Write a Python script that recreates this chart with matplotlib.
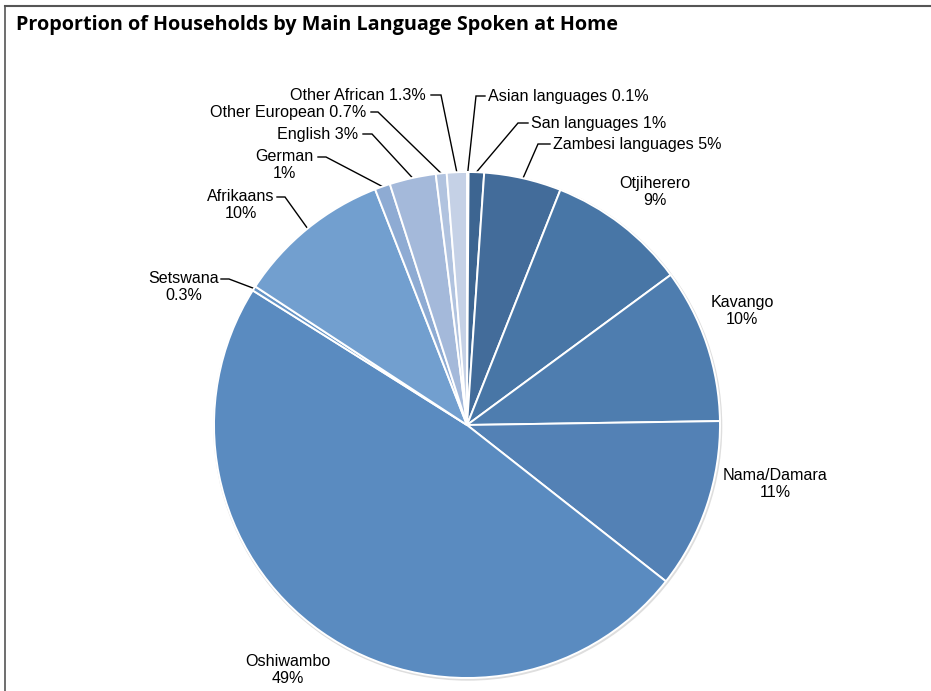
"""Pie chart of household shares by main language spoken at home."""
import numpy as np
import matplotlib
matplotlib.use("Agg")
import matplotlib.pyplot as plt
from matplotlib.lines import Line2D
from matplotlib.patches import Circle

W, H = 931, 691

# slices listed clockwise from 12 o'clock
languages = ["Asian languages", "San languages", "Zambesi languages", "Otjiherero",
             "Kavango", "Nama/Damara", "Oshiwambo", "Setswana", "Afrikaans",
             "German", "English", "Other European", "Other African"]
shares = [0.1, 1, 5, 9, 10, 11, 49, 0.3, 10, 1, 3, 0.7, 1.3]
share_text = ["0.1%", "1%", "5%", "9%", "10%", "11%", "49%", "0.3%", "10%",
              "1%", "3%", "0.7%", "1.3%"]
colors = ["#3a5f8c", "#3d6591", "#436c9a", "#4876a6", "#4e7daf", "#5381b5",
          "#5a8bc0", "#6594c6", "#729fcf", "#8eabd3", "#a4b9da", "#b1c3df",
          "#c5d1e6"]

CENTER = (467, 425)
RADIUS = 253

# label placement in pixels from the top-left corner:
# (x, y, ha, one_line, elbow_x) ; elbow_x None means no leader line
LAYOUT = {
    "Asian languages": (488, 96, "left", True, 476),
    "San languages": (531, 123, "left", True, 518),
    "Zambesi languages": (553, 144, "left", True, 538),
    "Otjiherero": (655, 192, "center", False, None),
    "Kavango": (742, 311, "center", False, None),
    "Nama/Damara": (775, 484, "center", False, None),
    "Oshiwambo": (288, 670, "center", False, None),
    "Setswana": (184, 287, "center", False, 229),
    "Afrikaans": (241, 205, "center", False, 285),
    "German": (284, 165, "center", False, 326),
    "English": (358, 134, "right", True, 372),
    "Other European": (366, 112, "right", True, 378),
    "Other African": (426, 95, "right", True, 441),
}


def px(x, y):
    return x, H - y


def leader(ax, angle, lay):
    x, y, ha, one_line, elbow = lay
    line_y = y if one_line else y - 8
    if ha == "left":
        x0, x1 = elbow, x - 3
    elif ha == "right":
        x0, x1 = elbow, x + 5
    else:
        x0, x1 = elbow, elbow - 8
    rad = np.deg2rad(angle)
    ex = CENTER[0] + RADIUS * np.sin(rad)
    ey = CENTER[1] - RADIUS * np.cos(rad)
    xs = [x1, x0, ex]
    ys = [line_y, line_y, ey]
    ax.plot(xs, [H - v for v in ys], color="black", lw=1.0, zorder=1,
            solid_joinstyle="miter")


def main():
    fig = plt.figure(figsize=(W / 100, H / 100), dpi=100)
    ax = fig.add_axes([0, 0, 1, 1])

    cx, cy = px(*CENTER)
    ax.add_patch(Circle((cx + 0.8, cy - 1.2), RADIUS + 0.8, color="#dedede", zorder=0))
    wedges, _ = ax.pie(shares, colors=colors, startangle=90, counterclock=False,
                       center=(cx, cy), radius=RADIUS,
                       wedgeprops=dict(edgecolor="white", linewidth=1.4))
    for w in wedges:
        w.set_zorder(2)

    total = sum(shares)
    start = 0.0
    for name, value, pct in zip(languages, shares, share_text):
        span = 360 * value / total
        mid = start + span / 2
        start += span
        lay = LAYOUT[name]
        x, y, ha, one_line, elbow = lay
        label = f"{name} {pct}" if one_line else f"{name}\n{pct}"
        ax.text(*px(x, y), label, ha=ha, va="center", multialignment="center",
                fontsize=11.6, family="Liberation Sans", linespacing=1.22)
        if elbow is not None:
            leader(ax, mid, lay)

    ax.set_xlim(0, W)
    ax.set_ylim(0, H)
    ax.set_aspect("equal")
    ax.axis("off")

    fig.text(16 / W, 1 - 25 / H, "Proportion of Households by Main Language Spoken at Home",
             ha="left", va="center", fontsize=14.2, fontweight="bold",
             family="Open Sans")
    fig.add_artist(Line2D([5 / W, 1], [1 - 6 / H, 1 - 6 / H], color="#555555", lw=1.5))
    fig.add_artist(Line2D([5 / W, 5 / W], [0, 1 - 6 / H], color="#555555", lw=1.2))

    fig.savefig("out.png", dpi=100)
    plt.close(fig)


if __name__ == "__main__":
    main()
